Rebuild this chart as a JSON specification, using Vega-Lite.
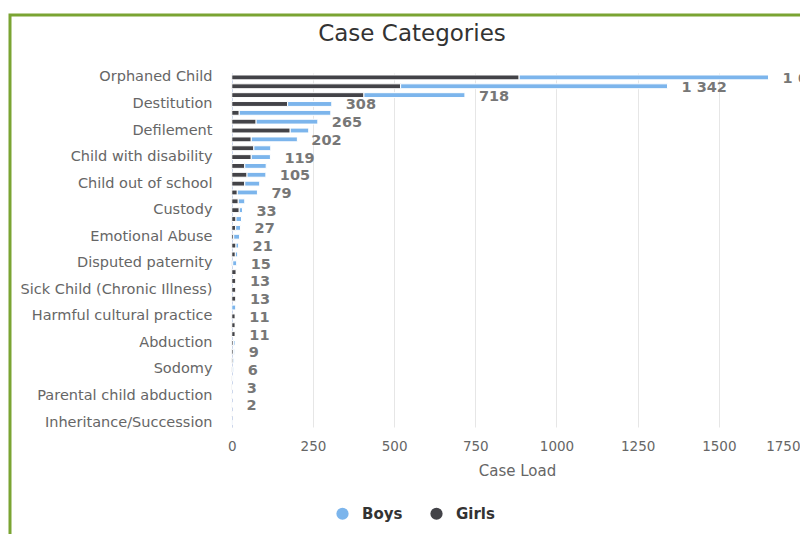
{
  "$schema": "https://vega.github.io/schema/vega-lite/v6.json",
  "autosize": {"type": "none"},
  "padding": {"left": 10, "top": 15, "right": 0, "bottom": 0},
  "width": 790,
  "height": 519,
  "background": "white",
  "title": {"text": "Case Categories", "anchor": "middle", "frame": "group", "font": "DejaVu Sans", "fontSize": 23, "fontWeight": "normal", "color": "#333333", "offset": -18, "baseline": "middle", "dx": 7, "dy": 24},
  "config": {
    "view": {"stroke": "#7aa432", "strokeWidth": 3, "strokeDash": [790, 1309, 519]},
    "locale": {"number": {"decimal": ".", "thousands": " ", "grouping": [3], "currency": ["", ""]}},
    "axis": {"labelFont": "DejaVu Sans", "titleFont": "DejaVu Sans"},
    "legend": {"labelFont": "DejaVu Sans"}
  },
  "layer": [
    {
      "data": {"values": [
        {"c": "Orphaned Child", "sex": "Girls", "n": 885}, {"c": "Orphaned Child", "sex": "Boys", "n": 768},
        {"c": "Category 2", "sex": "Girls", "n": 520}, {"c": "Category 2", "sex": "Boys", "n": 822},
        {"c": "Category 3", "sex": "Girls", "n": 407}, {"c": "Category 3", "sex": "Boys", "n": 311},
        {"c": "Destitution", "sex": "Girls", "n": 172}, {"c": "Destitution", "sex": "Boys", "n": 136},
        {"c": "Category 5", "sex": "Girls", "n": 23}, {"c": "Category 5", "sex": "Boys", "n": 282},
        {"c": "Category 6", "sex": "Girls", "n": 75}, {"c": "Category 6", "sex": "Boys", "n": 190},
        {"c": "Defilement", "sex": "Girls", "n": 180}, {"c": "Defilement", "sex": "Boys", "n": 57},
        {"c": "Category 8", "sex": "Girls", "n": 60}, {"c": "Category 8", "sex": "Boys", "n": 142},
        {"c": "Category 9", "sex": "Girls", "n": 68}, {"c": "Category 9", "sex": "Boys", "n": 52},
        {"c": "Child with disability", "sex": "Girls", "n": 60}, {"c": "Child with disability", "sex": "Boys", "n": 59},
        {"c": "Category 11", "sex": "Girls", "n": 40}, {"c": "Category 11", "sex": "Boys", "n": 66},
        {"c": "Category 12", "sex": "Girls", "n": 47}, {"c": "Category 12", "sex": "Boys", "n": 58},
        {"c": "Child out of school", "sex": "Girls", "n": 40}, {"c": "Child out of school", "sex": "Boys", "n": 46},
        {"c": "Category 14", "sex": "Girls", "n": 17}, {"c": "Category 14", "sex": "Boys", "n": 62},
        {"c": "Category 15", "sex": "Girls", "n": 20}, {"c": "Category 15", "sex": "Boys", "n": 20},
        {"c": "Custody", "sex": "Girls", "n": 23}, {"c": "Custody", "sex": "Boys", "n": 10},
        {"c": "Category 17", "sex": "Girls", "n": 13}, {"c": "Category 17", "sex": "Boys", "n": 17},
        {"c": "Category 18", "sex": "Girls", "n": 12}, {"c": "Category 18", "sex": "Boys", "n": 15},
        {"c": "Emotional Abuse", "sex": "Girls", "n": 6}, {"c": "Emotional Abuse", "sex": "Boys", "n": 18},
        {"c": "Category 20", "sex": "Girls", "n": 13}, {"c": "Category 20", "sex": "Boys", "n": 8},
        {"c": "Category 21", "sex": "Girls", "n": 11}, {"c": "Category 21", "sex": "Boys", "n": 7},
        {"c": "Disputed paternity", "sex": "Girls", "n": 3}, {"c": "Disputed paternity", "sex": "Boys", "n": 12},
        {"c": "Category 23", "sex": "Girls", "n": 14}, {"c": "Category 23", "sex": "Boys", "n": 0},
        {"c": "Category 24", "sex": "Girls", "n": 13}, {"c": "Category 24", "sex": "Boys", "n": 0},
        {"c": "Sick Child (Chronic Illness)", "sex": "Girls", "n": 13}, {"c": "Sick Child (Chronic Illness)", "sex": "Boys", "n": 0},
        {"c": "Category 26", "sex": "Girls", "n": 13}, {"c": "Category 26", "sex": "Boys", "n": 0},
        {"c": "Category 27", "sex": "Girls", "n": 0}, {"c": "Category 27", "sex": "Boys", "n": 12},
        {"c": "Harmful cultural practice", "sex": "Girls", "n": 11}, {"c": "Harmful cultural practice", "sex": "Boys", "n": 0},
        {"c": "Category 29", "sex": "Girls", "n": 11}, {"c": "Category 29", "sex": "Boys", "n": 0},
        {"c": "Category 30", "sex": "Girls", "n": 11}, {"c": "Category 30", "sex": "Boys", "n": 0},
        {"c": "Abduction", "sex": "Girls", "n": 5}, {"c": "Abduction", "sex": "Boys", "n": 5},
        {"c": "Category 32", "sex": "Girls", "n": 5}, {"c": "Category 32", "sex": "Boys", "n": 4},
        {"c": "Category 33", "sex": "Girls", "n": 4}, {"c": "Category 33", "sex": "Boys", "n": 3},
        {"c": "Sodomy", "sex": "Girls", "n": 3}, {"c": "Sodomy", "sex": "Boys", "n": 3},
        {"c": "Category 35", "sex": "Girls", "n": 2}, {"c": "Category 35", "sex": "Boys", "n": 2},
        {"c": "Category 36", "sex": "Girls", "n": 2}, {"c": "Category 36", "sex": "Boys", "n": 1},
        {"c": "Parental child abduction", "sex": "Girls", "n": 1}, {"c": "Parental child abduction", "sex": "Boys", "n": 1},
        {"c": "Category 38", "sex": "Girls", "n": 1}, {"c": "Category 38", "sex": "Boys", "n": 1},
        {"c": "Category 39", "sex": "Girls", "n": 1}, {"c": "Category 39", "sex": "Boys", "n": 0},
        {"c": "Inheritance/Succession", "sex": "Girls", "n": 0}, {"c": "Inheritance/Succession", "sex": "Boys", "n": 1}
      ]},
      "mark": {"type": "bar", "stroke": "white", "strokeWidth": 1},
      "encoding": {
        "y": {
          "field": "c", "type": "nominal", "title": null,
          "scale": {
            "domain": ["Orphaned Child", "Category 2", "Category 3", "Destitution", "Category 5", "Category 6", "Defilement", "Category 8", "Category 9", "Child with disability", "Category 11", "Category 12", "Child out of school", "Category 14", "Category 15", "Custody", "Category 17", "Category 18", "Emotional Abuse", "Category 20", "Category 21", "Disputed paternity", "Category 23", "Category 24", "Sick Child (Chronic Illness)", "Category 26", "Category 27", "Harmful cultural practice", "Category 29", "Category 30", "Abduction", "Category 32", "Category 33", "Sodomy", "Category 35", "Category 36", "Parental child abduction", "Category 38", "Category 39", "Inheritance/Succession"],
            "range": [58, 412], "paddingInner": 0.45, "paddingOuter": 0.225
          },
          "axis": {
            "values": ["Orphaned Child", "Destitution", "Defilement", "Child with disability", "Child out of school", "Custody", "Emotional Abuse", "Disputed paternity", "Sick Child (Chronic Illness)", "Harmful cultural practice", "Abduction", "Sodomy", "Parental child abduction", "Inheritance/Succession"],
            "ticks": false, "labelPadding": 20, "labelFontSize": 14.5, "labelColor": "#666666",
            "domainColor": "#ccd6eb", "offset": -222, "grid": false, "labelLimit": 300
          }
        },
        "x": {
          "field": "n", "type": "quantitative", "stack": "zero", "title": "Case Load",
          "scale": {"domain": [-683, 1750], "nice": false, "zero": false},
          "axis": {
            "orient": "top", "offset": -412,
            "values": [0, 250, 500, 750, 1000, 1250, 1500, 1750], "format": "d",
            "grid": true, "gridColor": "#e6e6e6", "domain": false, "ticks": false,
            "labelFontSize": 13.5, "labelColor": "#666666", "labelPadding": -19, "labelBaseline": "middle", "labelFlush": true,
            "titleFontSize": 15, "titleFontWeight": "normal", "titleColor": "#666666",
            "titleX": 507, "titleY": 43, "titleBaseline": "middle", "titleAlign": "center"
          }
        },
        "color": {
          "field": "sex", "type": "nominal",
          "scale": {"domain": ["Boys", "Girls"], "range": ["#7cb5ec", "#434348"]},
          "legend": {
            "title": null, "orient": "none", "direction": "horizontal", "legendX": 325, "legendY": 491,
            "symbolType": "circle", "symbolSize": 150, "symbolStrokeWidth": 0, "symbolOpacity": 1,
            "labelFontSize": 15, "labelFontWeight": "bold", "labelColor": "#333333",
            "labelOffset": 12, "columnPadding": 26, "padding": 0
          }
        },
        "order": {"field": "sex", "sort": "descending"}
      }
    },
    {
      "data": {"values": [
        {"c": "Orphaned Child", "total": 1653},
        {"c": "Category 2", "total": 1342},
        {"c": "Category 3", "total": 718},
        {"c": "Destitution", "total": 308},
        {"c": "Category 6", "total": 265},
        {"c": "Category 8", "total": 202},
        {"c": "Child with disability", "total": 119},
        {"c": "Category 12", "total": 105},
        {"c": "Category 14", "total": 79},
        {"c": "Custody", "total": 33},
        {"c": "Category 18", "total": 27},
        {"c": "Category 20", "total": 21},
        {"c": "Disputed paternity", "total": 15},
        {"c": "Category 24", "total": 13},
        {"c": "Category 26", "total": 13},
        {"c": "Harmful cultural practice", "total": 11},
        {"c": "Category 30", "total": 11},
        {"c": "Category 32", "total": 9},
        {"c": "Sodomy", "total": 6},
        {"c": "Category 36", "total": 3},
        {"c": "Category 38", "total": 2}
      ]},
      "mark": {"type": "text", "align": "left", "baseline": "middle", "dx": 14, "dy": 1.5, "font": "DejaVu Sans", "fontWeight": "bold", "fontSize": 14.5, "color": "#777777"},
      "encoding": {
        "y": {"field": "c", "type": "nominal", "title": null},
        "x": {"field": "total", "type": "quantitative", "title": "Case Load"},
        "text": {"field": "total", "type": "quantitative", "format": ",d"}
      }
    }
  ]
}
